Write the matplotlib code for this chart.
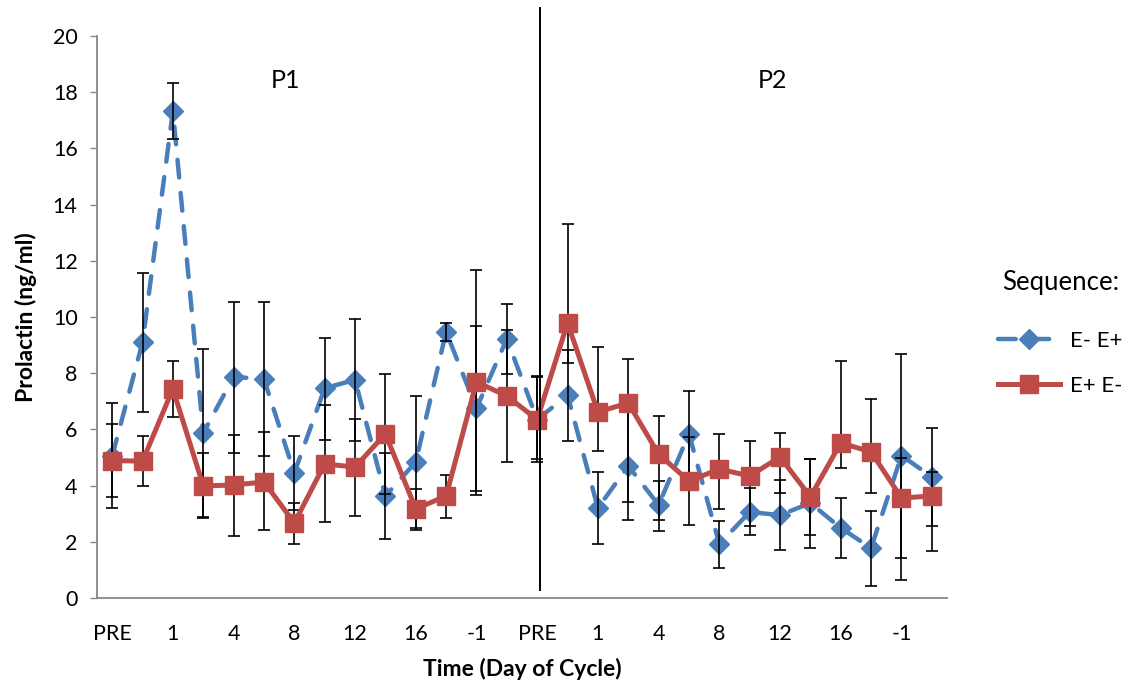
import matplotlib
matplotlib.use("Agg")
import matplotlib.pyplot as plt
import numpy as np

plt.rcParams["font.family"] = ["Lato", "DejaVu Sans"]

# ============================================================
# DATA
# ============================================================
TICK_LABELS = ["PRE", "", "1", "", "4", "", "8", "", "12", "", "16", "", "-1", "",
               "PRE", "", "1", "", "4", "", "8", "", "12", "", "16", "", "-1", ""]

# E- E+ (blue): mean, upper bound, lower bound of error bar
blue_mean = [5.05, 9.1, 17.33, 5.87, 7.87, 7.79, 4.45, 7.47, 7.76, 3.63, 4.84, 9.47, 6.75, 9.22,
             6.35, 7.22, 3.2, 4.7, 3.31, 5.84, 1.92, 3.06, 2.95, 3.38, 2.49, 1.78, 5.07, 4.31]
blue_hi = [6.94, 11.55, 18.33, 8.86, 10.53, 10.53, 5.77, 9.25, 9.93, 5.16, 7.19, 9.8, 9.68, 10.46,
           7.85, 8.83, 4.48, 6.62, 4.16, 7.35, 2.74, 3.91, 4.19, 4.95, 3.56, 3.1, 8.68, 6.05]
blue_lo = [3.2, 6.62, 16.33, 2.88, 5.16, 5.05, 3.13, 5.62, 5.59, 2.1, 2.49, 9.14, 3.81, 7.97,
           4.84, 5.59, 1.92, 2.78, 2.38, 4.34, 1.07, 2.24, 1.71, 1.78, 1.42, 0.43, 1.42, 2.56]

# E+ E- (red)
red_mean = [4.89, 4.87, 7.44, 3.99, 4.02, 4.13, 2.67, 4.77, 4.66, 5.84, 3.17, 3.63, 7.69, 7.19,
            6.35, 9.79, 6.62, 6.94, 5.12, 4.16, 4.59, 4.34, 5.02, 3.6, 5.52, 5.2, 3.56, 3.63]
red_hi = [6.19, 5.77, 8.43, 5.16, 5.8, 5.9, 3.38, 6.87, 6.37, 7.97, 3.88, 4.38, 11.67, 9.54,
          7.9, 13.3, 8.93, 8.5, 6.48, 5.72, 5.84, 5.59, 5.87, 4.96, 8.42, 7.08, 5.0, 4.5]
red_lo = [3.59, 3.98, 6.44, 2.85, 2.2, 2.42, 1.92, 2.7, 2.92, 3.71, 2.42, 2.85, 3.67, 4.84,
          4.95, 8.36, 5.23, 3.42, 2.78, 2.6, 3.17, 2.56, 3.74, 2.24, 4.63, 3.74, 0.64, 1.67]

BLUE = "#4A7EBB"
RED = "#BE4B48"
GRAY = "#878787"

fig = plt.figure(figsize=(11.27, 6.87), dpi=100)
ax = fig.add_axes([97 / 1127, 1 - 598 / 687, 850 / 1127, 562 / 687])

x = np.arange(len(TICK_LABELS))
bm, rm = np.array(blue_mean), np.array(red_mean)

ax.plot(x, bm, color=BLUE, lw=3.2, ls=(0, (4, 3.5)), dash_capstyle="round",
        marker="D", ms=9.7, mec=BLUE, mfc=BLUE, zorder=2, label="E- E+")
for mean, hi, lo in [(bm, blue_hi, blue_lo), (rm, red_hi, red_lo)]:
    yerr = [mean - np.array(lo), np.array(hi) - mean]
    ax.errorbar(x, mean, yerr=yerr, fmt="none", ecolor="black", elinewidth=1.2,
                capsize=4, capthick=1.2, zorder=2.5)
ax.plot(x, rm, color=RED, lw=3.6, marker="s", ms=13.5, mec=RED, mfc=RED,
        solid_joinstyle="round", zorder=3, label="E+ E-")

ax.set_xlim(-0.5, len(TICK_LABELS) - 0.5)
ax.set_ylim(0, 20)
ax.set_yticks(np.arange(0, 21, 2))
ax.set_xticks(x)
ax.set_xticklabels(TICK_LABELS)
ax.tick_params(axis="x", length=0, pad=19, labelsize=15.5)
ax.tick_params(axis="y", length=5, width=1, color=GRAY, pad=9, labelsize=15.5)
for s in ["top", "right"]:
    ax.spines[s].set_visible(False)
for s in ["left", "bottom"]:
    ax.spines[s].set_color(GRAY)
    ax.spines[s].set_linewidth(1.3)

ax.set_ylabel("Prolactin (ng/ml)", fontsize=16.5, fontweight="bold", labelpad=11)
ax.set_xlabel("Time (Day of Cycle)", fontsize=16.5, fontweight="bold", labelpad=10)

# phase divider and labels
ax.plot([14.1, 14.1], [0.3, 21.0], color="black", lw=1.4, clip_on=False, zorder=4)
ax.text(5.7, 18.4, "P1", fontsize=18, ha="center", va="center")
ax.text(21.76, 18.4, "P2", fontsize=18, ha="center", va="center")

leg = fig.legend(loc="upper left", bbox_to_anchor=(978 / 1127, 1 - 250 / 687),
                 frameon=False, title="Sequence:", title_fontsize=18.5, fontsize=16,
                 handlelength=2.8, labelspacing=1.1, handletextpad=0.45)
leg._legend_box.sep = 26

fig.savefig("out.png", dpi=100, facecolor="white")
